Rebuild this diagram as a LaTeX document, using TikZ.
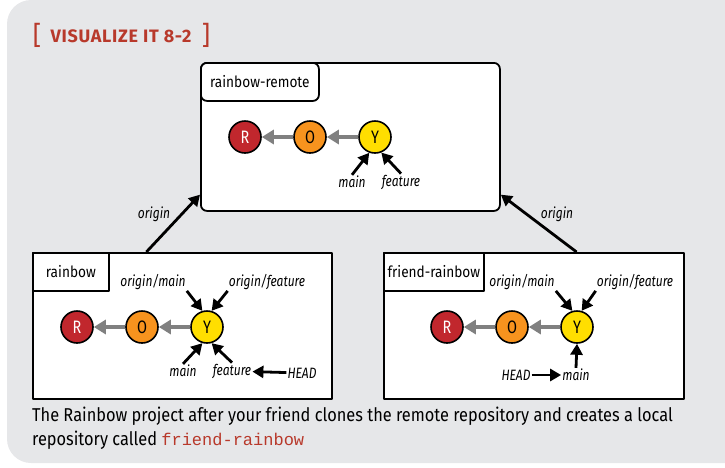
\documentclass[tikz,border=0pt]{standalone}
\usepackage{fontspec}
\setmainfont{Fira Sans}[FakeStretch=0.88]
\newfontfamily\reffont{Fira Sans}[FakeStretch=0.8]
\newfontfamily\headfont{Fira Sans}[LetterSpace=4]
\setmonofont{Liberation Mono}
\usetikzlibrary{arrows.meta}
\definecolor{panel}{HTML}{E6E7E9}
\definecolor{vizred}{HTML}{B8392B}
\definecolor{commitR}{HTML}{C1272D}
\definecolor{commitO}{HTML}{F7931E}
\definecolor{commitY}{HTML}{FFDE00}
\tikzset{
  repo/.style={draw, line width=1.8pt, fill=white, inner sep=0pt, anchor=north west},
  tag/.style={draw, line width=1.8pt, fill=white, inner sep=0pt, anchor=north west,
    font=\fontsize{15.5}{18}\selectfont},
  commit/.style={circle, draw, line width=1.6pt, minimum size=32pt, inner sep=0pt,
    font=\reffont\fontsize{18}{20}\selectfont},
  ref/.style={inner sep=1pt, font=\reffont\fontsize{15}{17}\selectfont\itshape},
  ptr/.style={-{Triangle[length=11pt,width=12pt]}, line width=2.8pt},
  parent/.style={-{Triangle[length=12pt,width=14pt]}, line width=3.4pt, draw=gray},
}
\begin{document}
\begin{tikzpicture}[x=1pt, y=-1pt, line join=round]
	\useasboundingbox (0,0) rectangle (725,467);
	\fill[panel, rounded corners=24pt] (7,0) rectangle (760,463);
	% title
	\node[text=vizred, font=\headfont\bfseries\fontsize{18}{20}\selectfont] (title) at (121,36) {VISUALIZE IT 8-2};
	\node[text=vizred, font=\headfont\fontsize{26}{28}\selectfont] (lbrack) at (37,35) {[};
	\node[text=vizred, font=\headfont\fontsize{26}{28}\selectfont] (rbrack) at (206,35) {]};
	% repositories
	\node[repo, rounded corners=6pt, minimum width=299pt, minimum height=148pt] (remote) at (200,62) {};
	\node[tag, rounded corners=6pt, minimum width=118pt, minimum height=38pt] (remotetag) at (remote.north west) {rainbow-remote};
	\node[repo, minimum width=299pt, minimum height=146pt] (rainbow) at (32,252) {};
	\node[tag, minimum width=76pt, minimum height=38pt] (rainbowtag) at (rainbow.north west) {rainbow};
	\node[repo, minimum width=300pt, minimum height=146pt] (friend) at (383,252) {};
	\node[tag, minimum width=100pt, minimum height=38pt] (friendtag) at (friend.north west) {friend-rainbow};
	% commits
	\foreach \side/\x/\y in {t/245/137, l/77/327, r/447/327}{
		\node[commit, fill=commitR, text=white] (\side R) at (\x,\y) {R};
		\node[commit, fill=commitO] (\side O) at (\x+65,\y) {O};
		\node[commit, fill=commitY] (\side Y) at (\x+130,\y) {Y};
		\draw[parent] (\side Y) -- (\side O);
		\draw[parent] (\side O) -- (\side R);
	}
	% branches of rainbow-remote
	\node[ref] (tmain) at (352,182) {main};
	\node[ref] (tfeature) at (401,182) {feature};
	\draw[ptr] (tmain.north) -- (tY.-110);
	\draw[ptr] (tfeature.north) -- (tY.-68);
	% branches of rainbow
	\node[ref] (lomain) at (153,282) {origin/main};
	\node[ref] (lofeature) at (267,282) {origin/feature};
	\node[ref] (lmain) at (183,371) {main};
	\node[ref] (lfeature) at (232,371) {feature};
	\node[ref] (lhead) at (302,373) {HEAD};
	\draw[ptr] (lomain.south east) -- (lY.106);
	\draw[ptr] (lofeature.south west) -- (lY.74);
	\draw[ptr] (lmain.north) -- (lY.-106);
	\draw[ptr] (lfeature.north) -- (lY.-74);
	\draw[ptr] (lhead) -- (lfeature);
	% branches of friend-rainbow
	\node[ref] (romain) at (522,282) {origin/main};
	\node[ref] (rofeature) at (635,282) {origin/feature};
	\node[ref] (rmain) at (576,375) {main};
	\node[ref] (rhead) at (516,375) {HEAD};
	\draw[ptr] (romain.south east) -- (rY.106);
	\draw[ptr] (rofeature.south west) -- (rY.74);
	\draw[ptr] (rmain.north) -- (rY.south);
	\draw[ptr] (rhead) -- (rmain);
	% remotes
	\node[ref] (lorigin) at (154,214) {origin};
	\node[ref] (rorigin) at (557,214) {origin};
	\draw[ptr] (rainbow.116.6) -- (remote.201.5);
	\draw[ptr] (friend.60) -- (remote.-21.5);
	% caption
	\node[anchor=base west, inner sep=0pt, font=\fontsize{18.6}{22}\selectfont] (cap1) at (32,421)
		{The Rainbow project after your friend clones the remote repository and creates a local};
	\node[anchor=base west, inner sep=0pt, font=\fontsize{18.6}{22}\selectfont] (cap2) at (32,445)
		{repository called \textcolor{vizred}{\fontsize{17}{20}\ttfamily friend-rainbow}};
\end{tikzpicture}
\end{document}
